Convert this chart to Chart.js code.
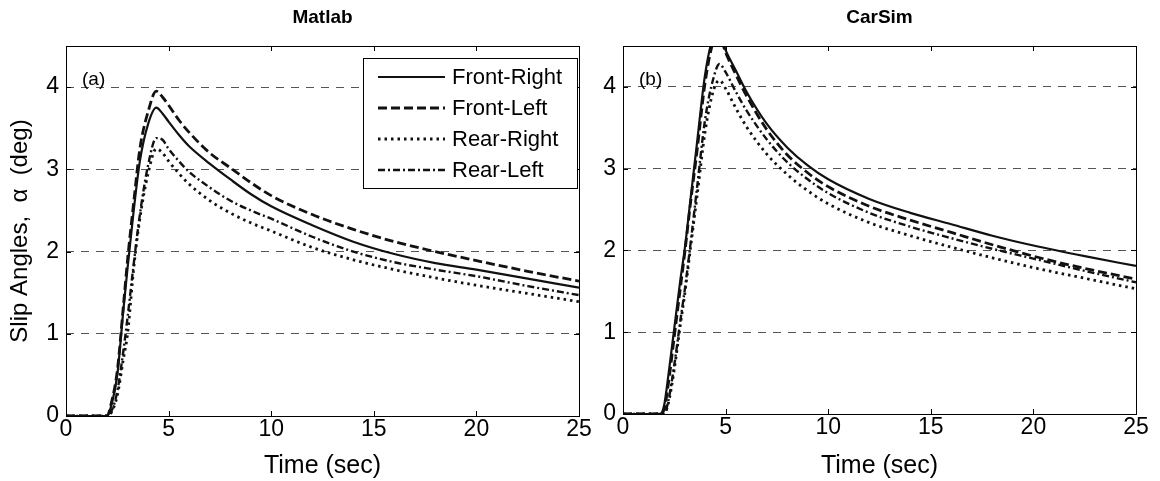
<!DOCTYPE html>
<html>
<head>
<meta charset="utf-8">
<title>Slip Angles - Matlab vs CarSim</title>
<script src="https://cdn.jsdelivr.net/npm/chart.js@4.4.1/dist/chart.umd.min.js"></script>
<style>
  html, body { margin: 0; padding: 0; background: #fff; }
  #wrap { position: relative; width: 1160px; height: 481px; }
  .panel { position: absolute; top: 0; }
  #p1 { left: 0; }
  #p2 { left: 600px; }
</style>
</head>
<body>
<div id="wrap">
  <div class="panel" id="p1"><canvas id="matlabChart" width="600" height="481"></canvas></div>
  <div class="panel" id="p2"><canvas id="carsimChart" width="560" height="481"></canvas></div>
</div>
<script>
  // sample times (sec), shared by every curve
  const timeSec = [0, 1.8, 2.0, 2.2, 2.5, 2.8, 3.0, 3.3, 3.6, 4.0, 4.4, 4.7, 5, 5.5, 6, 7, 8, 9, 10, 12, 14, 16, 18, 20, 22.5, 25];

  // (a) Matlab slip angles, deg
  const matlabFrontRight = [0, 0, 0, 0.12, 0.5, 1.3, 1.8, 2.5, 3.1, 3.55, 3.75, 3.68, 3.58, 3.42, 3.28, 3.07, 2.88, 2.7, 2.55, 2.32, 2.12, 1.97, 1.86, 1.78, 1.67, 1.56];
  const matlabFrontLeft  = [0, 0, 0, 0.15, 0.55, 1.35, 1.9, 2.6, 3.25, 3.7, 3.95, 3.88, 3.78, 3.6, 3.45, 3.2, 3.02, 2.84, 2.68, 2.45, 2.27, 2.12, 2.0, 1.89, 1.76, 1.64];
  const matlabRearRight  = [0, 0, 0, 0.04, 0.25, 0.7, 1.0, 1.8, 2.4, 2.95, 3.25, 3.2, 3.1, 2.95, 2.82, 2.62, 2.47, 2.35, 2.25, 2.05, 1.9, 1.78, 1.68, 1.59, 1.49, 1.39];
  const matlabRearLeft   = [0, 0, 0, 0.05, 0.3, 0.8, 1.2, 1.85, 2.45, 3.05, 3.38, 3.36, 3.25, 3.1, 2.97, 2.78, 2.62, 2.5, 2.4, 2.18, 2.0, 1.87, 1.78, 1.7, 1.58, 1.47];

  // (b) CarSim slip angles, deg (front peaks run past the 4.5 axis limit)
  const carsimFrontRight = [0, 0, 0.1, 0.45, 1.05, 1.65, 2.0, 2.65, 3.3, 4.15, 4.6, 4.65, 4.45, 4.2, 3.95, 3.55, 3.26, 3.04, 2.87, 2.63, 2.46, 2.32, 2.18, 2.06, 1.93, 1.81];
  const carsimFrontLeft  = [0, 0, 0.05, 0.35, 0.95, 1.55, 1.95, 2.6, 3.2, 4.05, 4.55, 4.62, 4.42, 4.15, 3.9, 3.48, 3.17, 2.95, 2.78, 2.54, 2.37, 2.22, 2.07, 1.93, 1.78, 1.65];
  const carsimRearRight  = [0, 0, 0, 0.12, 0.55, 1.1, 1.45, 2.05, 2.65, 3.45, 3.95, 4.08, 3.98, 3.74, 3.52, 3.18, 2.93, 2.73, 2.57, 2.34, 2.18, 2.04, 1.91, 1.79, 1.66, 1.53];
  const carsimRearLeft   = [0, 0, 0, 0.15, 0.6, 1.15, 1.5, 2.1, 2.75, 3.6, 4.1, 4.28, 4.18, 3.94, 3.72, 3.36, 3.08, 2.87, 2.7, 2.46, 2.29, 2.15, 2.02, 1.9, 1.75, 1.61];

  const seriesNames = ['Front-Right', 'Front-Left', 'Rear-Right', 'Rear-Left'];
  const xTickValues = [0, 5, 10, 15, 20, 25];
  const yTickValues = [0, 1, 2, 3, 4];

  const FONT = '"Liberation Sans", Arial, Helvetica, sans-serif';
  Chart.defaults.font.family = FONT;
  Chart.defaults.color = '#000';

  const lineStyles = [
    { borderDash: [],            borderWidth: 2.2 },
    { borderDash: [9, 4],        borderWidth: 2.8 },
    { borderDash: [2.5, 4],      borderWidth: 2.8 },
    { borderDash: [7, 3, 2, 3],  borderWidth: 2.4 }
  ];

  function makeDatasets(valueLists) {
    return valueLists.map((vals, i) => ({
      label: seriesNames[i],
      data: timeSec.map((t, k) => ({ x: t, y: vals[k] })),
      borderColor: '#111',
      borderDash: lineStyles[i].borderDash,
      borderWidth: lineStyles[i].borderWidth,
      pointRadius: 0,
      fill: false,
      cubicInterpolationMode: 'monotone'
    }));
  }

  // box, inward ticks, panel title/tag and legend in the MATLAB look
  const matlabFrame = {
    id: 'matlabFrame',
    afterDraw(chart, args, opts) {
      const { ctx, chartArea: a, scales: { x, y } } = chart;
      const seg = (x1, y1, x2, y2) => { ctx.beginPath(); ctx.moveTo(x1, y1); ctx.lineTo(x2, y2); ctx.stroke(); };
      ctx.save();
      ctx.strokeStyle = '#000';
      ctx.lineWidth = 1;
      ctx.setLineDash([]);
      ctx.strokeRect(Math.round(a.left) + 0.5, Math.round(a.top) + 0.5, Math.round(a.width), Math.round(a.height));
      xTickValues.forEach(v => {
        const px = Math.round(x.getPixelForValue(v)) + 0.5;
        seg(px, a.bottom, px, a.bottom - 5);
        seg(px, a.top, px, a.top + 5);
      });
      yTickValues.forEach(v => {
        const py = Math.round(y.getPixelForValue(v)) + 0.5;
        seg(a.left, py, a.left + 5, py);
        seg(a.right, py, a.right - 5, py);
      });

      ctx.fillStyle = '#000';
      ctx.font = 'bold 19px ' + FONT;
      ctx.textAlign = 'center';
      ctx.textBaseline = 'middle';
      ctx.fillText(opts.title, (a.left + a.right) / 2, 18);

      ctx.font = '19px ' + FONT;
      ctx.textAlign = 'left';
      ctx.textBaseline = 'alphabetic';
      ctx.fillText(opts.tag, a.left + 16, y.getPixelForValue(4) - 2);

      if (opts.legend) {
        const L = opts.legend;
        ctx.fillStyle = '#fff';
        ctx.fillRect(L.left, L.top, L.width, L.height);
        ctx.strokeRect(L.left + 0.5, L.top + 0.5, L.width, L.height);
        chart.data.datasets.forEach((ds, i) => {
          const cy = L.top + 19 + i * 31;
          ctx.strokeStyle = ds.borderColor;
          ctx.lineWidth = ds.borderWidth;
          ctx.setLineDash(ds.borderDash);
          seg(L.left + 15, cy, L.left + 82, cy);
          ctx.setLineDash([]);
          ctx.fillStyle = '#000';
          ctx.font = '22px ' + FONT;
          ctx.textBaseline = 'middle';
          ctx.fillText(ds.label, L.left + 89, cy + 1);
        });
      }
      ctx.restore();
    }
  };

  function buildOptions(cfg) {
    return {
      responsive: false,
      animation: false,
      layout: { padding: { top: 46, right: cfg.padRight, left: 0, bottom: 0 } },
      plugins: {
        legend: { display: false },
        tooltip: { enabled: false },
        matlabFrame: { title: cfg.title, tag: cfg.tag, legend: cfg.legend }
      },
      scales: {
        x: {
          type: 'linear', min: 0, max: 25,
          ticks: { stepSize: 5, maxRotation: 0, padding: 0, font: { size: 23 }, color: '#000' },
          grid: { display: false, drawTicks: false },
          border: { display: false },
          title: { display: true, text: 'Time (sec)', font: { size: 25 }, color: '#000', padding: { top: 0, bottom: 0 } },
          afterFit: s => { s.height = cfg.xHeight; }
        },
        y: {
          type: 'linear', min: 0, max: 4.5,
          ticks: { stepSize: 1, includeBounds: false, padding: 7, font: { size: 23 }, color: '#000' },
          grid: { drawTicks: false, lineWidth: 1, color: c => (c.tick && c.tick.value === 0) ? 'rgba(0,0,0,0)' : '#555' },
          border: { display: false, dash: [8, 7] },
          title: cfg.yTitle
            ? { display: true, text: 'Slip Angles,  \u03b1  (deg)', font: { size: 24 }, color: '#000', padding: { top: 6, bottom: 0 } }
            : { display: false },
          afterFit: s => { s.width = cfg.yWidth; }
        }
      }
    };
  }

  new Chart(document.getElementById('matlabChart'), {
    type: 'line',
    data: { datasets: makeDatasets([matlabFrontRight, matlabFrontLeft, matlabRearRight, matlabRearLeft]) },
    options: buildOptions({
      title: 'Matlab', tag: '(a)', padRight: 21, yWidth: 66, xHeight: 65, yTitle: true,
      legend: { left: 363, top: 58, width: 214, height: 130 }
    }),
    plugins: [matlabFrame]
  });

  new Chart(document.getElementById('carsimChart'), {
    type: 'line',
    data: { datasets: makeDatasets([carsimFrontRight, carsimFrontLeft, carsimRearRight, carsimRearLeft]) },
    options: buildOptions({
      title: 'CarSim', tag: '(b)', padRight: 24, yWidth: 23, xHeight: 67, yTitle: false,
      legend: null
    }),
    plugins: [matlabFrame]
  });
</script>
</body>
</html>
